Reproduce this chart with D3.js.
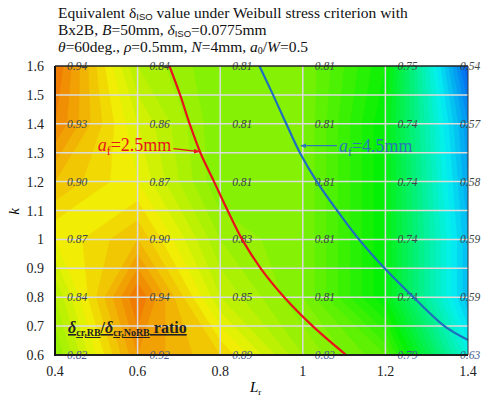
<!DOCTYPE html>
<html>
<head>
<meta charset="utf-8">
<script src="https://cdn.jsdelivr.net/npm/d3@7"></script>
<style>
  body { margin: 0; background: #fff; }
  text { font-family: "Liberation Serif", "Times New Roman", serif; }
</style>
</head>
<body>
<svg id="chart" width="484" height="400"></svg>
<script>
// grid of the surface: columns are L_r, rows are k (top row first)
var lrValues = [0.4, 0.6, 0.8, 1.0, 1.2, 1.4];
var kValues = [1.6, 1.4, 1.2, 1.0, 0.8, 0.6];
var ratioRows = [
    [0.94, 0.84, 0.81, 0.81, 0.75, 0.54],
    [0.93, 0.86, 0.81, 0.81, 0.74, 0.57],
    [0.90, 0.87, 0.81, 0.81, 0.74, 0.58],
    [0.87, 0.90, 0.83, 0.81, 0.74, 0.59],
    [0.84, 0.94, 0.85, 0.81, 0.74, 0.59],
    [0.82, 0.92, 0.89, 0.83, 0.79, 0.63]
];
var xTicks = [0.4, 0.6, 0.8, 1.0, 1.2, 1.4];
var yTicks = [0.6, 0.7, 0.8, 0.9, 1.0, 1.1, 1.2, 1.3, 1.4, 1.5, 1.6];

// a_f iso-lines, [L_r, k]
var curve25 = [[0.677, 1.6], [0.703, 1.5], [0.726, 1.4], [0.752, 1.3], [0.785, 1.2],
    [0.818, 1.1], [0.853, 1.0], [0.898, 0.9], [0.955, 0.8], [1.024, 0.7], [1.105, 0.6]];
var curve45 = [[0.895, 1.6], [0.928, 1.5], [0.960, 1.4], [0.993, 1.3], [1.034, 1.2],
    [1.083, 1.1], [1.136, 1.0], [1.198, 0.9], [1.268, 0.8], [1.343, 0.7], [1.4, 0.652]];

var svg = d3.select("#chart");
var pLeft = 55, pRight = 468, pTop = 66, pBottom = 355;

var x = d3.scaleLinear().domain([0.4, 1.4]).range([pLeft, pRight]);
var y = d3.scaleLinear().domain([0.6, 1.6]).range([pBottom, pTop]);

// colour: orange (high) -> green -> blue (low)
function ratioColor(v) {
    var h = 28 + (0.94 - v) / 0.40 * 190;
    h = Math.max(20, Math.min(225, h));
    return d3.hsl(h, 0.97, 0.48).toString();
}

// clip
svg.append("clipPath").attr("id", "plotclip")
    .append("rect").attr("x", pLeft).attr("y", pTop)
    .attr("width", pRight - pLeft).attr("height", pBottom - pTop);

var flat = [];
ratioRows.forEach(function (row) { row.forEach(function (v) { flat.push(v); }); });

var thresholds = d3.range(0.50, 0.955, 0.01);
var contours = d3.contours()
    .size([lrValues.length, kValues.length])
    .thresholds(thresholds)(flat);

var stepL = lrValues[1] - lrValues[0];
var stepK = kValues[0] - kValues[1];
var proj = d3.geoTransform({
    point: function (cx, cy) {
        this.stream.point(x(lrValues[0] + (cx - 0.5) * stepL), y(kValues[0] - (cy - 0.5) * stepK));
    }
});
var path = d3.geoPath(proj);

var field = svg.append("g").attr("clip-path", "url(#plotclip)");
field.append("rect").attr("x", pLeft).attr("y", pTop)
    .attr("width", pRight - pLeft).attr("height", pBottom - pTop)
    .attr("fill", ratioColor(0.50));
field.selectAll("path.band")
    .data(contours)
    .enter().append("path")
    .attr("class", "band")
    .attr("d", path)
    .attr("fill", function (d) { return ratioColor(d.value + 0.005); })
    .attr("stroke", function (d) { return ratioColor(d.value + 0.005); })
    .attr("stroke-width", 0.4);

// grid lines
svg.append("g").selectAll("line")
    .data(xTicks.slice(1, -1))
    .enter().append("line")
    .attr("x1", function (d) { return x(d); }).attr("x2", function (d) { return x(d); })
    .attr("y1", pTop).attr("y2", pBottom)
    .attr("stroke", "#dcdcdc").attr("stroke-width", 1.5);
svg.append("g").selectAll("line")
    .data(yTicks.slice(1, -1))
    .enter().append("line")
    .attr("y1", function (d) { return y(d); }).attr("y2", function (d) { return y(d); })
    .attr("x1", pLeft).attr("x2", pRight)
    .attr("stroke", "#dcdcdc").attr("stroke-width", 1.5);

// value labels
var cells = [];
ratioRows.forEach(function (row, j) {
    row.forEach(function (v, i) { cells.push({ L: lrValues[i], k: kValues[j], v: v, last: i == lrValues.length - 1, bottom: j == kValues.length - 1 }); });
});
svg.append("g").selectAll("text")
    .data(cells)
    .enter().append("text")
    .attr("x", function (d) { return x(d.L) + (d.last ? -8 : 12); })
    .attr("y", function (d) { return y(d.k) + 4; })
    .attr("font-size", 11.5)
    .attr("font-style", "italic")
    .attr("fill", function (d) { return d.bottom ? "#4a5a90" : "#3c4646"; })
    .text(function (d) { return d.v.toFixed(2); });

// iso-lines
var line = d3.line()
    .x(function (d) { return x(d[0]); })
    .y(function (d) { return y(d[1]); })
    .curve(d3.curveCatmullRom);
svg.append("path").attr("d", line(curve25))
    .attr("fill", "none").attr("stroke", "#e8141c").attr("stroke-width", 2.2);
svg.append("path").attr("d", line(curve45))
    .attr("fill", "none").attr("stroke", "#1f6fbf").attr("stroke-width", 2.2);

// frame
svg.append("line").attr("x1", pLeft).attr("x2", pRight).attr("y1", pTop).attr("y2", pTop)
    .attr("stroke", "#222").attr("stroke-width", 1.5);
svg.append("line").attr("x1", pRight).attr("x2", pRight).attr("y1", pTop).attr("y2", pBottom)
    .attr("stroke", "#333").attr("stroke-width", 1);
svg.append("line").attr("x1", pLeft).attr("x2", pRight).attr("y1", pBottom).attr("y2", pBottom)
    .attr("stroke", "#222").attr("stroke-width", 2);
svg.append("line").attr("x1", pLeft).attr("x2", pLeft).attr("y1", pTop).attr("y2", pBottom + 1)
    .attr("stroke", "#111").attr("stroke-width", 2);

// tick labels
svg.append("g").selectAll("text")
    .data(yTicks)
    .enter().append("text")
    .attr("x", pLeft - 11).attr("y", function (d) { return y(d) + 5; })
    .attr("text-anchor", "end").attr("font-size", 14).attr("fill", "#222")
    .text(function (d) { return d3.format("")(+d.toFixed(1)); });
svg.append("g").selectAll("text")
    .data(xTicks)
    .enter().append("text")
    .attr("x", function (d) { return x(d); }).attr("y", pBottom + 21)
    .attr("text-anchor", "middle").attr("font-size", 14).attr("fill", "#222")
    .text(function (d) { return d3.format("")(+d.toFixed(1)); });

// axis titles
svg.append("text")
    .attr("transform", "translate(19," + (y(1.1) + 1) + ") rotate(-90)")
    .attr("text-anchor", "middle").attr("font-size", 15).attr("font-style", "italic")
    .text("k");
var xt = svg.append("text").attr("x", 250).attr("y", 392).attr("font-size", 15);
xt.append("tspan").attr("font-style", "italic").text("L");
xt.append("tspan").attr("font-size", 9).attr("dy", 3).text("r");

// title
var t1 = svg.append("text").attr("x", 58).attr("y", 18).attr("font-size", 15.5).attr("fill", "#111");
t1.append("tspan").text("Equivalent δ");
t1.append("tspan").attr("font-size", 9.5).attr("dy", 2)
    .style("font-family", "'Liberation Sans', Arial, sans-serif").text("ISO");
t1.append("tspan").attr("dy", -2).text(" value under Weibull stress criterion with");

var t2 = svg.append("text").attr("x", 58).attr("y", 35).attr("font-size", 15.5).attr("fill", "#111");
t2.append("tspan").text("Bx2B, ");
t2.append("tspan").attr("font-style", "italic").text("B");
t2.append("tspan").text("=50mm, ");
t2.append("tspan").attr("font-style", "italic").text("δ");
t2.append("tspan").attr("font-size", 9.5).attr("dy", 2)
    .style("font-family", "'Liberation Sans', Arial, sans-serif").text("ISO");
t2.append("tspan").attr("dy", -2).text("=0.0775mm");

var t3 = svg.append("text").attr("x", 58).attr("y", 52).attr("font-size", 15.5).attr("fill", "#111");
t3.append("tspan").attr("font-style", "italic").text("θ");
t3.append("tspan").text("=60deg., ");
t3.append("tspan").attr("font-style", "italic").text("ρ");
t3.append("tspan").text("=0.5mm, ");
t3.append("tspan").attr("font-style", "italic").text("N");
t3.append("tspan").text("=4mm, ");
t3.append("tspan").attr("font-style", "italic").text("a");
t3.append("tspan").attr("font-size", 10).attr("dy", 2).text("0");
t3.append("tspan").attr("dy", -2).text("/");
t3.append("tspan").attr("font-style", "italic").text("W");
t3.append("tspan").text("=0.5");

// arrow markers
var defs = svg.append("defs");
[["arRed", "#e8141c"], ["arBlue", "#2a78b8"]].forEach(function (m) {
    defs.append("marker").attr("id", m[0])
        .attr("viewBox", "0 0 10 10").attr("refX", 9).attr("refY", 5)
        .attr("markerWidth", 5).attr("markerHeight", 5).attr("orient", "auto")
        .append("path").attr("d", "M0,1 L10,5 L0,9 z").attr("fill", m[1]);
});

// a_f annotations
var tip25 = curve25[3], tip45 = curve45[3];
svg.append("line")
    .attr("x1", x(tip25[0]) - 27).attr("y1", y(tip25[1]) - 4)
    .attr("x2", x(tip25[0]) - 1).attr("y2", y(tip25[1]) - 1)
    .attr("stroke", "#e8141c").attr("stroke-width", 1.2).attr("marker-end", "url(#arRed)");
var a1 = svg.append("text").attr("x", x(tip25[0]) - 29).attr("y", y(tip25[1]) - 2)
    .attr("text-anchor", "end").attr("font-size", 18).attr("fill", "#e8141c");
a1.append("tspan").attr("font-style", "italic").text("a");
a1.append("tspan").attr("font-size", 12).attr("dy", 4).text("f");
a1.append("tspan").attr("dy", -4).text("=2.5mm");

svg.append("line")
    .attr("x1", x(tip45[0]) + 37).attr("y1", y(tip45[1]) - 7)
    .attr("x2", x(tip45[0]) + 1).attr("y2", y(tip45[1]) - 7)
    .attr("stroke", "#2a78b8").attr("stroke-width", 1.2).attr("marker-end", "url(#arBlue)");
var a2 = svg.append("text").attr("x", x(tip45[0]) + 39).attr("y", y(tip45[1]) - 1)
    .attr("font-size", 18).attr("fill", "#2a78b8");
a2.append("tspan").attr("font-style", "italic").text("a");
a2.append("tspan").attr("font-size", 12).attr("dy", 4).text("f");
a2.append("tspan").attr("dy", -4).text("=4.5mm");

// ratio label
var rl = svg.append("text").attr("x", 68).attr("y", 333)
    .attr("font-size", 16).attr("font-weight", "bold").attr("fill", "#222")
    .attr("text-decoration", "underline");
rl.append("tspan").attr("font-style", "italic").text("δ");
rl.append("tspan").attr("font-size", 10).attr("dy", 3).text("cr,RB");
rl.append("tspan").attr("dy", -3).text("/");
rl.append("tspan").attr("font-style", "italic").text("δ");
rl.append("tspan").attr("font-size", 10).attr("dy", 3).text("cr,NoRB");
rl.append("tspan").attr("dy", -3).text(" ratio");
</script>
</body>
</html>
